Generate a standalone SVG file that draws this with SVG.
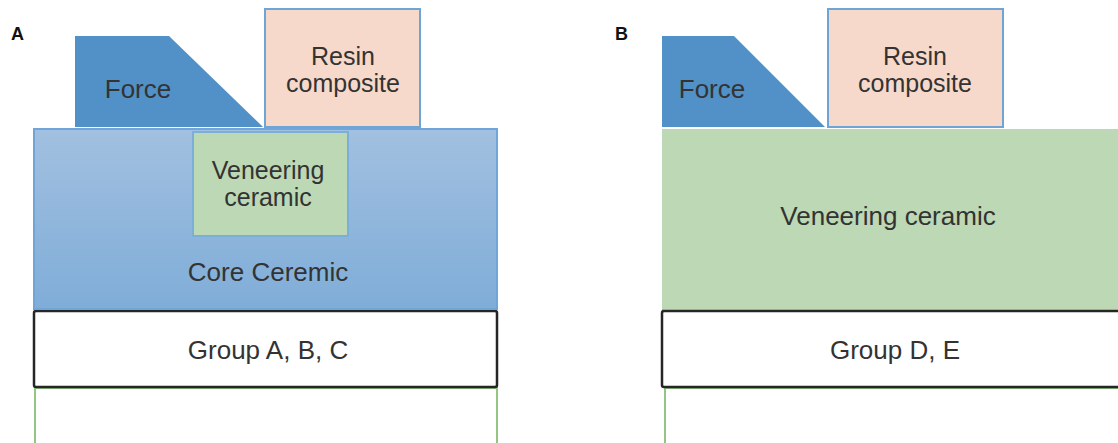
<svg xmlns="http://www.w3.org/2000/svg" width="1118" height="443" viewBox="0 0 1118 443">
<style>
text{font-family:"Liberation Sans",Arial,sans-serif;fill:#333;font-size:26px;text-anchor:middle}
.two{font-size:25px}
.lbl{font-weight:bold;font-size:18px;fill:#111;text-anchor:start}
.force{fill:#5191c7}
.resin{fill:#f7d9cb;stroke:#6fa5d4;stroke-width:2}
.ven{fill:#bcd8b4;stroke:#7baed8;stroke-width:2}
.group{fill:#fff;stroke:#262626;stroke-width:2.5}
.base{fill:#fff;stroke:#93c683;stroke-width:2}
</style>
<defs>
<linearGradient id="core" x1="0" y1="0" x2="0" y2="1">
<stop offset="0" stop-color="#a2c0e0"/>
<stop offset="1" stop-color="#7fadd8"/>
</linearGradient>
</defs>
<text class="lbl" x="11" y="40">A</text>
<text class="lbl" x="615" y="40">B</text>
<g id="a-base"><rect class="base" x="35" y="388" width="462" height="60"/></g>
<g id="a-group"><rect class="group" x="34" y="311" width="463" height="76" rx="2"/><text x="268" y="359">Group A, B, C</text></g>
<g id="a-core"><rect x="34" y="129" width="463" height="180" fill="url(#core)" stroke="#6fa5d8" stroke-width="2"/><text x="268" y="281">Core Ceremic</text></g>
<g id="a-veneer"><rect class="ven" x="193" y="132" width="155" height="104"/><text class="two" x="268" y="179">Veneering</text><text class="two" x="268" y="206">ceramic</text></g>
<g id="a-force"><polygon class="force" points="75,36 169,36 263,127 75,127"/><text x="138" y="98">Force</text></g>
<g id="a-resin"><rect class="resin" x="265" y="9" width="155" height="118"/><text class="two" x="343" y="65">Resin</text><text class="two" x="343" y="92">composite</text></g>
<g id="b-base"><rect class="base" x="665" y="388" width="460" height="60"/></g>
<g id="b-group"><rect class="group" x="662" y="311" width="463" height="76" rx="2"/><text x="895" y="359">Group D, E</text></g>
<g id="b-veneer"><rect x="662" y="129" width="460" height="180" fill="#bcd8b4"/><line x1="662" y1="309.5" x2="1118" y2="309.5" stroke="#7baed8" stroke-width="1"/><text x="888" y="225">Veneering ceramic</text></g>
<g id="b-force"><polygon class="force" points="662,36 734,36 825,127 662,127"/><text x="712" y="98">Force</text></g>
<g id="b-resin"><rect class="resin" x="828" y="9" width="175" height="118"/><text class="two" x="915" y="65">Resin</text><text class="two" x="915" y="92">composite</text></g>
<g id="connectors"/>
</svg>
